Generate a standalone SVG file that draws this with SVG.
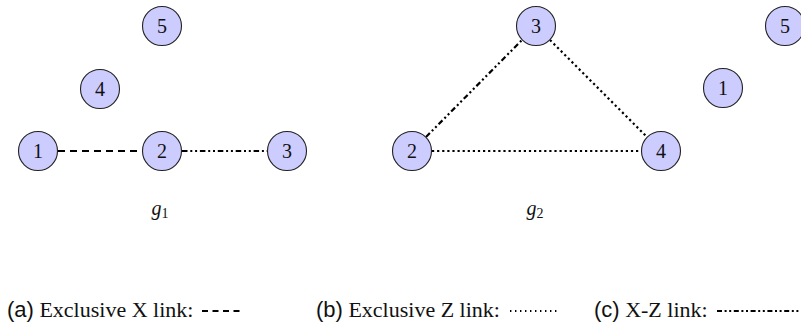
<svg xmlns="http://www.w3.org/2000/svg" width="801" height="325" viewBox="0 0 801 325">
<style>
.node circle{fill:#ccccff;stroke:#222;stroke-width:1.1}
.node text{font-family:"Liberation Serif","Times New Roman",serif;font-size:20px;text-anchor:middle;fill:#111}
.edge{fill:none;stroke:#000;stroke-width:2.2}
.x{stroke-dasharray:7 5}
.z{stroke-dasharray:2.2 2.9}
.xz{stroke-dasharray:5.5 2.8 2 2.8 2 2.8}
.cap{font-family:"Liberation Serif","Times New Roman",serif;font-size:22px;fill:#111}
.sans{font-family:"Liberation Sans",Arial,sans-serif}
.glabel{font-family:"Liberation Serif","Times New Roman",serif;font-style:italic;font-size:20px;fill:#111;text-anchor:middle}
</style>
<rect width="801" height="325" fill="#fff"/>
<g id="connectors">
<line class="edge x" x1="58" y1="151" x2="142" y2="151"/>
<line class="edge xz" x1="182" y1="151" x2="267" y2="151"/>
<line class="edge xz" x1="426" y1="137" x2="522" y2="40"/>
<line class="edge z" x1="550" y1="40" x2="647" y2="137"/>
<line class="edge z" x1="432" y1="151" x2="641" y2="151"/>
</g>
<g id="g1-n1" class="node"><circle cx="38" cy="151" r="19.5"/><text x="38" y="158">1</text></g>
<g id="g1-n2" class="node"><circle cx="162" cy="151" r="19.5"/><text x="162" y="158">2</text></g>
<g id="g1-n3" class="node"><circle cx="287" cy="151" r="19.5"/><text x="287" y="158">3</text></g>
<g id="g1-n4" class="node"><circle cx="100" cy="89" r="19.5"/><text x="100" y="96">4</text></g>
<g id="g1-n5" class="node"><circle cx="162" cy="26" r="19.5"/><text x="162" y="33">5</text></g>
<g id="g2-n2" class="node"><circle cx="412" cy="151" r="19.5"/><text x="412" y="158">2</text></g>
<g id="g2-n3" class="node"><circle cx="536" cy="26" r="19.5"/><text x="536" y="33">3</text></g>
<g id="g2-n4" class="node"><circle cx="661" cy="151" r="19.5"/><text x="661" y="158">4</text></g>
<g id="g3-n1" class="node"><circle cx="723" cy="88" r="19.5"/><text x="723" y="95">1</text></g>
<g id="g3-n5" class="node"><circle cx="785" cy="26" r="19.5"/><text x="785" y="33">5</text></g>
<text class="glabel" x="160" y="215">g<tspan font-style="normal" font-size="14" dy="3">1</tspan></text>
<text class="glabel" x="535" y="215">g<tspan font-style="normal" font-size="14" dy="3">2</tspan></text>
<text class="cap" x="7" y="317"><tspan class="sans">(a)</tspan> Exclusive X link:</text>
<line class="edge" stroke-width="2.6" stroke-dasharray="6 4.5" x1="202" y1="311" x2="243" y2="311"/>
<text class="cap" x="316" y="317"><tspan class="sans">(b)</tspan> Exclusive Z link:</text>
<line class="edge" stroke-width="1.4" stroke-dasharray="1.4 3.6" x1="510" y1="311" x2="558" y2="311"/>
<text class="cap" x="594" y="317"><tspan class="sans">(c)</tspan> X-Z link:</text>
<line class="edge" stroke-width="2.2" stroke-dasharray="5 2.6 2 2.6 2 2.6" x1="717" y1="311" x2="801" y2="311"/>
</svg>
